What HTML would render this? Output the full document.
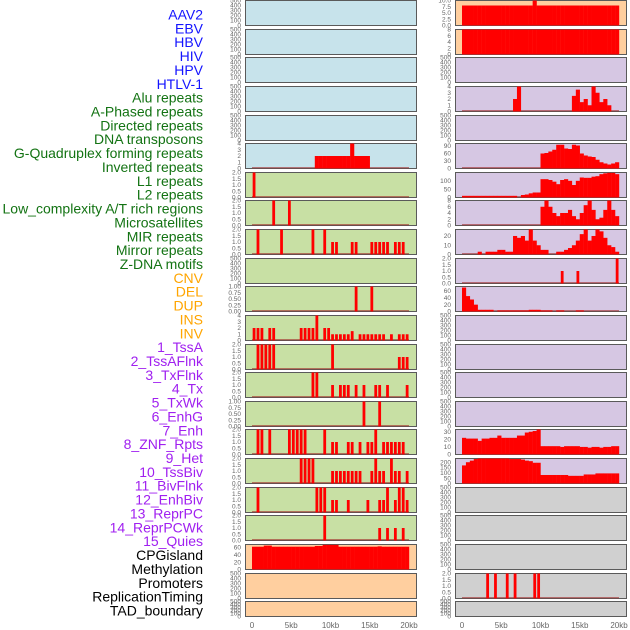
<!DOCTYPE html>
<html><head><meta charset="utf-8"><style>
html,body{margin:0;padding:0;background:#fff;}
svg{display:block;font-family:"Liberation Sans",sans-serif;}
</style></head><body>
<svg id="chart" width="630" height="630" viewBox="0 0 630 630" xmlns="http://www.w3.org/2000/svg">
<g id="labels"></g>
<g id="panels"></g>
<g id="xaxes"></g>
</svg>
<script>
const trackLabels = ["AAV2","EBV","HBV","HIV","HPV","HTLV-1","Alu repeats","A-Phased repeats","Directed repeats","DNA transposons","G-Quadruplex forming repeats","Inverted repeats","L1 repeats","L2 repeats","Low_complexity A/T rich regions","Microsatellites","MIR repeats","Mirror repeats","Z-DNA motifs","CNV","DEL","DUP","INS","INV","1_TssA","2_TssAFlnk","3_TxFlnk","4_Tx","5_TxWk","6_EnhG","7_Enh","8_ZNF_Rpts","9_Het","10_TssBiv","11_BivFlnk","12_EnhBiv","13_ReprPC","14_ReprPCWk","15_Quies","CPGisland","Methylation","Promoters","ReplicationTiming","TAD_boundary"];
const labelGroups = [6,13,5,15,5];
const groupColors = ["#1414ff","#137313","#ffa500","#a020f0","#000000"];

const xTickKb = [0,5,10,15,20];
const xTickLabels = ["0","5kb","10kb","15kb","20kb"];

const T500 = ["0","100","200","300","400","500"];
const T2 = ["0.0","0.5","1.0","1.5","2.0"];
const T1 = ["0.00","0.25","0.50","0.75","1.00"];

// left column sparse bins (0.5kb bins) and values
const L5_bins=[16,17,18,19,20,21,22,23,24,25,26,27,28,29];
const L5_vals=[2,2,2,2,2,2,2,2,2,4,2,2,2,2];
const L6_bins=[0]; const L6_vals=[2];
const L7_bins=[5,9]; const L7_vals=[2,2];
const L8_bins=[1,7,15,18,20,21,25,26,30,31,32,33,34,36,37,38];
const L8_vals=[2,2,2,2,1,1,1,1,1,1,1,1,1,1,1,1];
const L10_bins=[26,30]; const L10_vals=[1,1];
const L11_bins=[0,1,2,4,5,12,13,14,15,16,18,19,20,21,22,23,24,25,27,28,29,30,31,32,33,35,37,38,39];
const L11_vals=[2,2,2,2,2,2,2,2,2,4,2,2,1,1,1,1,1,1.5,1,1,1,1,1,1,1,1,1,1,1];
const L12_bins=[1,2,3,4,5,20,37,38,39]; const L12_vals=[2,2,2,2,2,2,1,1,1];
const L13_bins=[15,16,20,22,23,24,26,28,31,32,34,39]; const L13_vals=[2,2,1,1,1,1,1,1,1,1,1,1];
const L14_bins=[28,32]; const L14_vals=[1,1];
const L15_bins=[1,2,4,9,10,11,12,13,18,20,21,24,25,27,29,30,31,33,34,35,36,37,38];
const L15_vals=[2,2,2,2,2,2,2,2,2,1,1,1,1,1,1,1,2,1,1,1,1,1,1];
const L16_bins=[12,13,14,15,20,21,22,23,24,25,26,27,30,31,32,33,35,36,37,39];
const L16_vals=[2,2,2,2,1,1,1,1,1,1,1,1,1,2,1,1,2,1,1,1];
const L17_bins=[1,16,17,18,20,21,24,29,32,33,34,36,37,38,39];
const L17_vals=[2,2,2,2,1,1,1,1,1,1,2,1,2,2,1];
const L18_bins=[18,32,34,36,38]; const L18_vals=[2,1,1,1,1];
const L19_vals=[62,62,62,65,65,62,62,62,62,62,62,62,62,62,62,62,64,64,67,67,67,67,62,62,62,62,62,62,62,62,62,62,63,62,62,62,62,62,62,62];

// right column
const R0_vals=[8,8,8,8,8,8,8,8,8,8,8,8,8,8,8,8,8,8,10,8,8,8,8,8,8,8,8,8,8,8,8,8,8,8,8,8,8,8,8,8];
const R1_vals=[8,8,8,8,8,8,8,8,8,8,8,8,8,8,8,8,8,8,8,8,8,8,8,8,8,8,8,8,8,8,8,8,8,8,8,8,8,8,8,8];
const R3_bins=[13,14,28,29,30,31,32,33,34,35,36,37];
const R3_vals=[2,4,2.5,3.5,1.5,2,1,4,3,1.5,2,1];
const R5_vals=[0,0,0,0,0,0,0,0,0,0,0,0,0,0,0,0,0,0,0,0,60,62,68,75,95,95,80,78,95,92,60,52,48,46,35,25,20,16,20,25];
const R6_vals=[10,10,10,10,10,10,10,10,10,10,10,10,10,10,0,15,18,25,30,30,110,110,105,95,80,105,110,100,75,100,120,118,118,125,128,140,145,148,148,140];
const R7_vals=[0,0,0,0,0,0,0,0,0,0,0,0,0,0,0,0,0,0,0,0,6,8,6,4,3,4,4,5,3,2,4,6.5,8,5,2,2.5,5,8,5,3];
const R8_vals=[0,0,0,0,3,0,3,3,3,5,5,3,3,20,18,20,15,27,15,10,5,5,0,0,3,3,5,7,10,15,22,27,15,20,27,25,18,10,8,3];
const R9_bins=[25,29,39]; const R9_vals=[1,1,2];
const R10_vals=[70,45,35,20,5,5,5,5,0,3,3,3,3,3,3,3,3,5,5,5,3,3,3,0,3,3,0,0,0,3,3,0,0,0,0,0,0,0,0,0];
const R15_vals=[22,21,21,21,18,21,21,22,22,25,22,22,22,22,25,25,29,30,31,33,11,11,11,11,11,10,11,11,11,11,10,10,9,10,10,9,10,10,11,11];
const R16_vals=[170,200,215,230,235,235,235,235,235,235,235,235,230,230,230,225,215,210,195,195,80,80,80,80,80,80,80,72,72,72,72,85,85,85,95,95,95,95,95,95];
const R20_bins=[6,8,11,13,18,19]; const R20_vals=[2,2,2,2,2,2];

function dense(v){return v.map((y,i)=>[i,y,0.5]);}
function sparse(b,v){return b.map((bb,i)=>[bb,v[i],0.33]);}

const BLUE="#c7e3eb", GREEN="#c8e0a4", ORANGE="#ffcf9f", PURPLE="#d6c7e3", GRAY="#d0d0d0";
const leftCol = [
 [BLUE,500,T500,null],[BLUE,500,T500,null],[BLUE,500,T500,null],[BLUE,500,T500,null],[BLUE,500,T500,null],
 [BLUE,4,["0","1","2","3","4"],dense(L5_bins.reduce((a,b,i)=>{a[b]=L5_vals[i];return a;},new Array(40).fill(0)))],
 [GREEN,2,T2,sparse(L6_bins,L6_vals)],[GREEN,2,T2,sparse(L7_bins,L7_vals)],[GREEN,2,T2,sparse(L8_bins,L8_vals)],
 [GREEN,500,T500,null],[GREEN,1,T1,sparse(L10_bins,L10_vals)],[GREEN,4,["0","1","2","3","4"],sparse(L11_bins,L11_vals)],
 [GREEN,2,T2,sparse(L12_bins,L12_vals)],[GREEN,2,T2,sparse(L13_bins,L13_vals)],[GREEN,1,T1,sparse(L14_bins,L14_vals)],
 [GREEN,2,T2,sparse(L15_bins,L15_vals)],[GREEN,2,T2,sparse(L16_bins,L16_vals)],[GREEN,2,T2,sparse(L17_bins,L17_vals)],
 [GREEN,2,T2,sparse(L18_bins,L18_vals)],[ORANGE,68,["0","20","40","60"],dense(L19_vals)],
 [ORANGE,500,T500,null],[ORANGE,500,T500,null]
];
const rightCol = [
 [ORANGE,10,["0.0","2.5","5.0","7.5","10.0"],dense(R0_vals)],[ORANGE,8,["0","2","4","6","8"],dense(R1_vals)],
 [PURPLE,500,T500,null],[PURPLE,4,["0","1","2","3","4"],sparse(R3_bins,R3_vals).map(d=>[d[0],d[1],0.5])],[PURPLE,500,T500,null],
 [PURPLE,100,["0","30","60","90"],dense(R5_vals)],[PURPLE,150,["0","50","100"],dense(R6_vals)],
 [PURPLE,8,["0","2","4","6","8"],dense(R7_vals)],[PURPLE,27,["0","10","20"],dense(R8_vals)],
 [PURPLE,2,T2,sparse(R9_bins,R9_vals)],[PURPLE,73,["0","20","40","60"],dense(R10_vals)],
 [PURPLE,500,T500,null],[PURPLE,500,T500,null],[PURPLE,500,T500,null],[PURPLE,500,T500,null],
 [PURPLE,33,["0","10","20","30"],dense(R15_vals)],[PURPLE,235,["0","50","100","150","200"],dense(R16_vals)],
 [GRAY,500,T500,null],[GRAY,500,T500,null],[GRAY,500,T500,null],[GRAY,2,T2,sparse(R20_bins,R20_vals)],[GRAY,500,T500,null]
];

const NS="http://www.w3.org/2000/svg";
function mk(tag,attrs,parent){const e=document.createElementNS(NS,tag);for(const k in attrs)e.setAttribute(k,attrs[k]);parent.appendChild(e);return e;}

const labelsG=document.getElementById('labels');
let gi=0,cnt=0;
trackLabels.forEach((t,i)=>{
  while(cnt>=labelGroups[gi]){gi++;cnt=0;}
  cnt++;
  const e=mk('text',{x:203,y:(19.5+i*13.86).toFixed(2),'text-anchor':'end','font-size':'14',fill:groupColors[gi]},labelsG);
  e.textContent=t;
  
  
});

const rowTops=[];for(let i=0;i<22;i++)rowTops.push(Math.round(i*28.63));
const panelsG=document.getElementById('panels');
function drawCol(col,px0,zeroX){
  const pw=171;
  const xs=kb=>zeroX+kb*7.85;
  col.forEach((p,r)=>{
    const [fill,ymax,ticks,data]=p;
    const top=rowTops[r]+0.5, h=(r===21?15:25);
    const g=mk('g',{},panelsG);
    
    
    const rect=mk('rect',{x:px0+0.5,y:top,width:pw,height:h,fill:fill,stroke:'#5a5a5a','stroke-width':1},g);
    
    
    const ys=v=>top+h-(v/ymax)*h;
    ticks.forEach(tl=>{
      const v=parseFloat(tl);
      const t=mk('text',{x:px0-4,y:(ys(v)+2.2).toFixed(2),'text-anchor':'end','font-size':'6.5',fill:'#666'},g);
      t.textContent=tl;
      
      
    });
    if(data){
      const bl=mk('line',{x1:xs(0),x2:xs(20),y1:top+h-0.8,y2:top+h-0.8,stroke:'rgba(160,40,40,0.6)','stroke-width':1.4},g);
      
      
      data.forEach(([b,v,w])=>{
        if(v<=0)return;
        const vv=Math.min(v,ymax);
        const x1=xs(b*0.5+(0.5-w)/2),x2=xs(b*0.5+(0.5-w)/2+w);
        const bar=mk('rect',{x:x1.toFixed(2),y:ys(vv).toFixed(2),width:(x2-x1+0.2).toFixed(2),height:(top+h-ys(vv)).toFixed(2),fill:'#ff0000'},g);
        
        
      });
    }
  });
  const xa=document.getElementById('xaxes');
  xTickKb.forEach((k,i)=>{
    const t=mk('text',{x:xs(k),y:628,'text-anchor':'middle','font-size':'8',fill:'#666'},xa);
    t.textContent=xTickLabels[i];
    
    
  });
}
drawCol(leftCol,245,252);
drawCol(rightCol,455,462);
</script>
</body></html>
